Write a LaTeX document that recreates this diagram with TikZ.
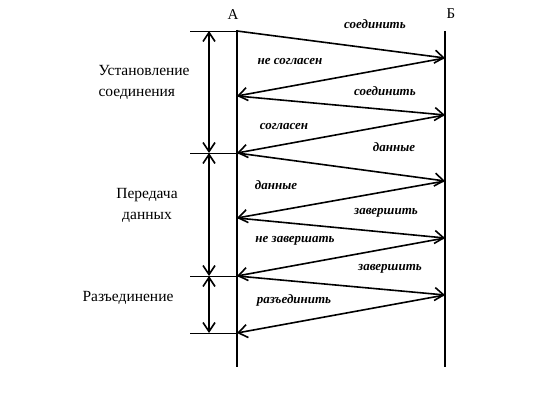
\documentclass[tikz,border=0pt]{standalone}
\usepackage{fontspec}
\setmainfont{Liberation Serif}
\usetikzlibrary{arrows.meta}

\begin{document}
\begin{tikzpicture}[
    x=1pt, y=-1pt,
    lifeline/.style={line width=2pt},
    msg/.style={-{Straight Barb[length=9pt, width=13pt, line width=1.6pt]}, line width=1.6pt},
    span/.style={{Straight Barb[length=9pt, width=12pt, line width=1.6pt]}-{Straight Barb[length=9pt, width=12pt, line width=1.6pt]}, line width=1.6pt},
    tick/.style={line width=0.8pt},
    msglabel/.style={font=\fontsize{13}{15}\selectfont\bfseries\itshape},
    phase/.style={font=\fontsize{15.5}{21}\selectfont},
    side/.style={font=\fontsize{15}{18}\selectfont}
]
\useasboundingbox (0,0) rectangle (539,409);

% Lifelines
\coordinate (Atop) at (237,30);
\coordinate (Abot) at (237,367);
\coordinate (Btop) at (445,31);
\coordinate (Bbot) at (445,367);
\draw[lifeline] (Atop) -- (Abot);
\draw[lifeline] (Btop) -- (Bbot);
\node[side] (nameA) at (233,15) {А};
\node[side] (nameB) at (451,14) {Б};

% Message points
\coordinate (a1) at (237,31);
\coordinate (b1) at (445,58);
\coordinate (a2) at (237,96);
\coordinate (b2) at (445,115);
\coordinate (a3) at (237,153);
\coordinate (b3) at (445,181);
\coordinate (a4) at (237,218);
\coordinate (b4) at (445,238);
\coordinate (a5) at (237,276);
\coordinate (b5) at (445,295);
\coordinate (a6) at (237,333);

% Messages
\draw[msg] (a1) -- (b1);
\draw[msg] (b1) -- (a2);
\draw[msg] (a2) -- (b2);
\draw[msg] (b2) -- (a3);
\draw[msg] (a3) -- (b3);
\draw[msg] (b3) -- (a4);
\draw[msg] (a4) -- (b4);
\draw[msg] (b4) -- (a5);
\draw[msg] (a5) -- (b5);
\draw[msg] (b5) -- (a6);

% Message labels
\node[msglabel] (m1) at (375,24) {соединить};
\node[msglabel] (m2) at (290,62) {не согласен};
\node[msglabel] (m3) at (385,91) {соединить};
\node[msglabel] (m4) at (284,127) {согласен};
\node[msglabel] (m5) at (394,147) {данные};
\node[msglabel] (m6) at (276,185) {данные};
\node[msglabel] (m7) at (386,213) {завершить};
\node[msglabel] (m8) at (295,241) {не завершать};
\node[msglabel] (m9) at (390,269) {завершить};
\node[msglabel] (m10) at (294,300) {разъединить};

% Phase marks
\coordinate (t1) at (190,31);
\coordinate (t2) at (190,153);
\coordinate (t3) at (190,276);
\coordinate (t4) at (190,333);
\draw[tick] (t1) -- (a1);
\draw[tick] (t2) -- (a3);
\draw[tick] (t3) -- (a5);
\draw[tick] (t4) -- (a6);
\coordinate (d1) at (209,31);
\coordinate (d2) at (209,153);
\coordinate (d3) at (209,276);
\coordinate (d4) at (209,333);
\draw[span] (d1) -- (d2);
\draw[span] (d2) -- (d3);
\draw[span] (d3) -- (d4);

% Phase labels
\node[phase, align=left, anchor=west] (setup) at (95,82) {Установление\\соединения};
\node[phase, align=center] (transfer) at (147,205) {Передача\\данных};
\node[phase] (release) at (128,298) {Разъединение};

\end{tikzpicture}
\end{document}
